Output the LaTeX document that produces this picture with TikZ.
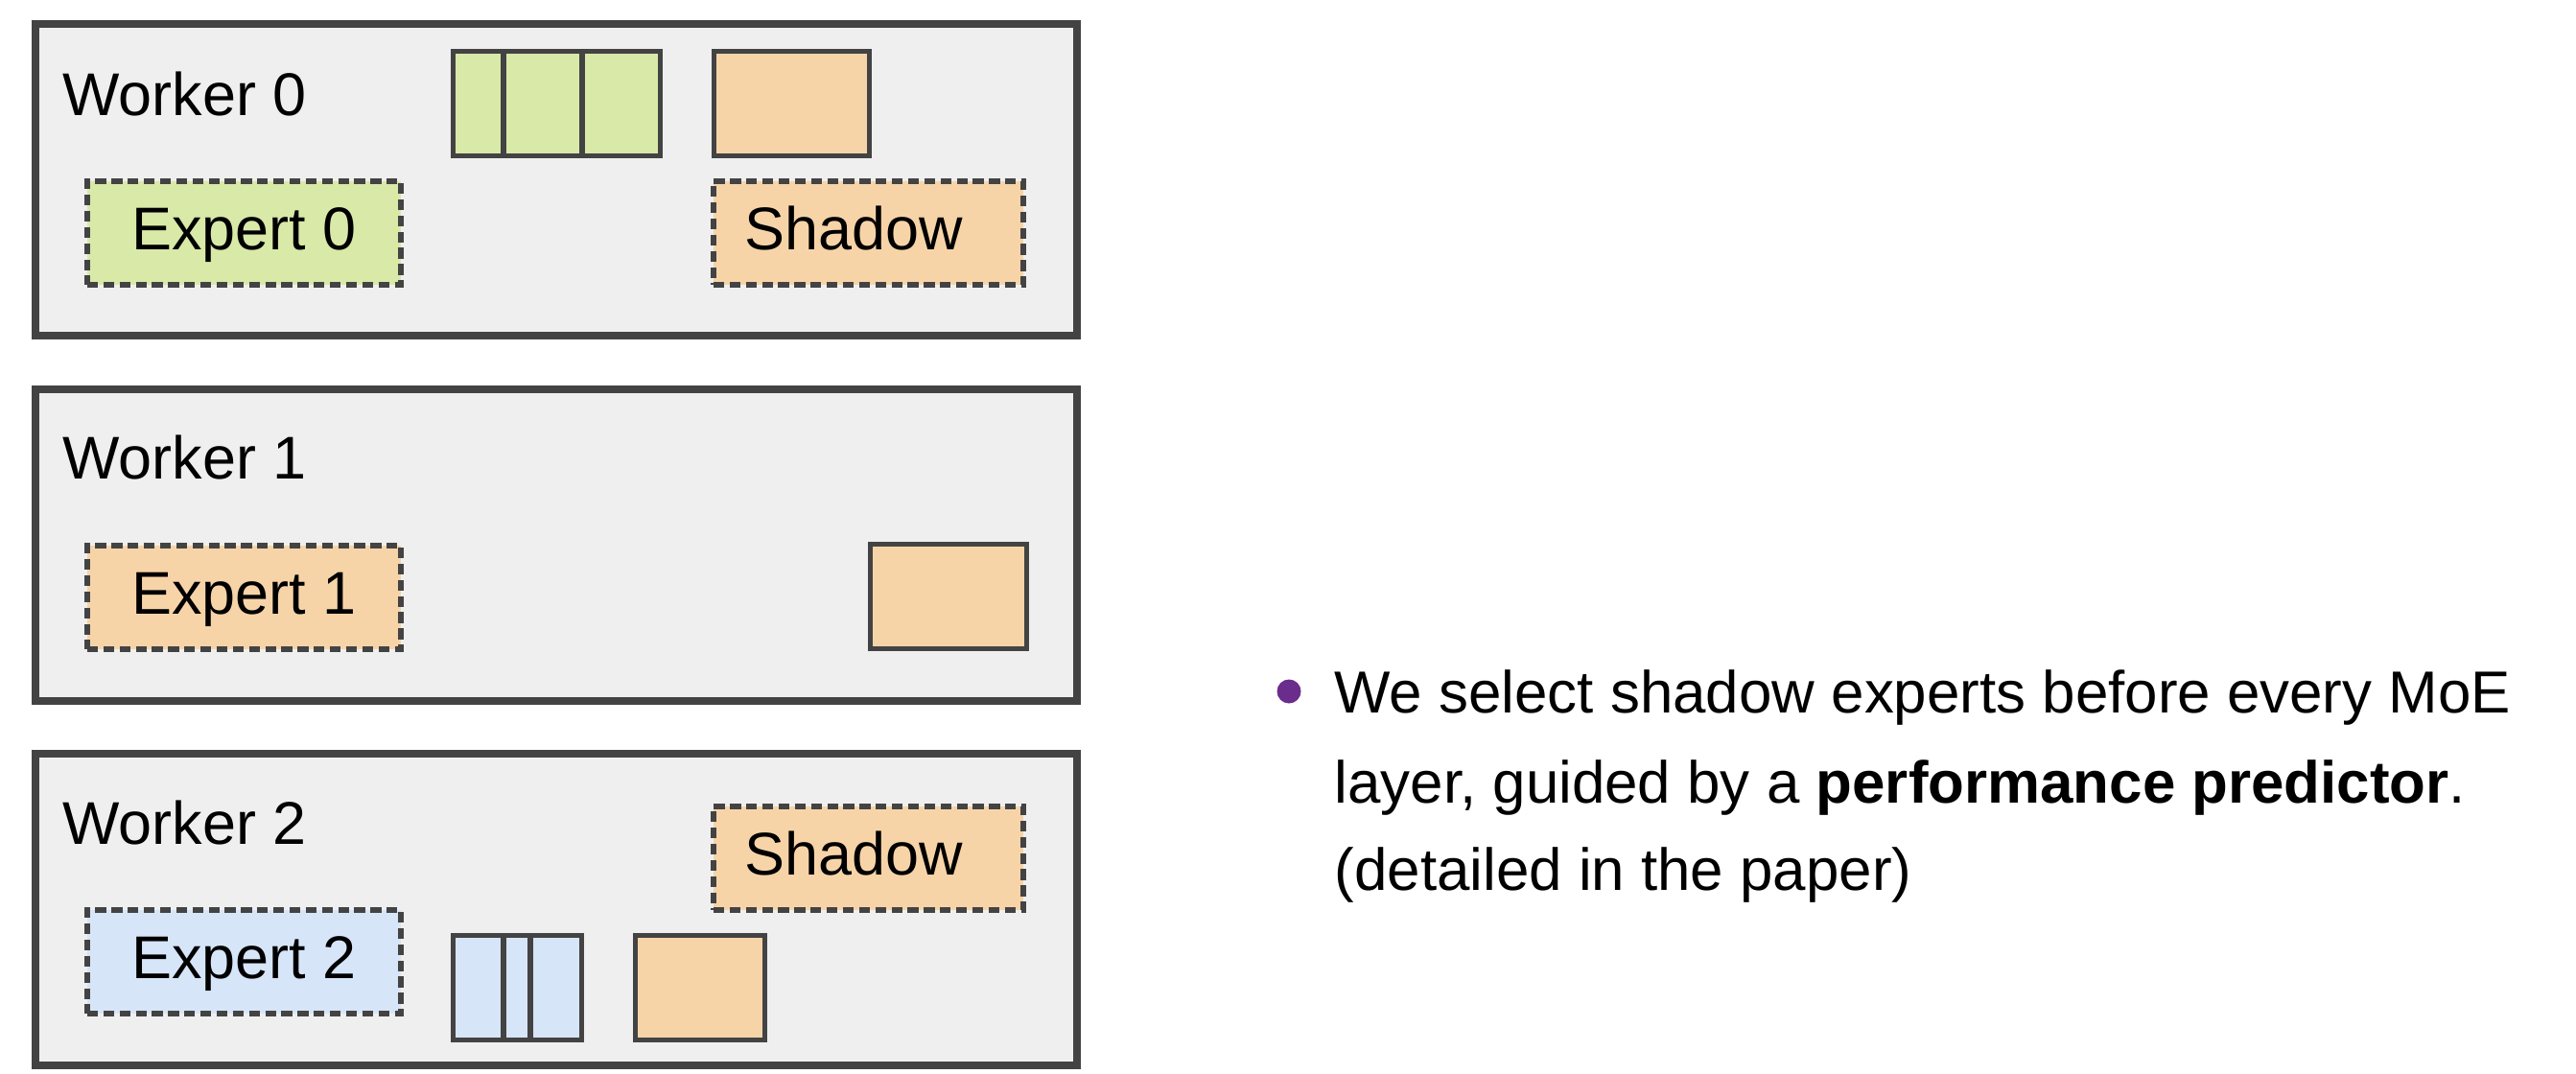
\documentclass[tikz,border=0pt]{standalone}
\usepackage{fontspec}
\setmainfont{Liberation Sans}
\usetikzlibrary{positioning}
\definecolor{workerbg}{HTML}{EFEFEF}
\definecolor{edgegray}{HTML}{434343}
\definecolor{greenbg}{HTML}{D8E9A8}
\definecolor{orangebg}{HTML}{F7D4A8}
\definecolor{bluebg}{HTML}{D6E5F7}
\definecolor{dotpurple}{HTML}{6B2D8B}

\begin{document}
\begin{tikzpicture}[
      font=\fontsize{17.9pt}{21pt}\selectfont,
      worker/.style={draw=edgegray, line width=2pt, fill=workerbg, minimum width=10.86cm, minimum height=3.25cm, inner sep=0pt},
      workername/.style={anchor=base west, inner sep=0pt},
      expert/.style={draw=edgegray, line width=1.6pt, dash pattern=on 3.2pt off 1.6pt, minimum width=3.27cm, minimum height=1.08cm, inner sep=0pt, text height=14pt, text depth=3.8pt},
      cell/.style={draw=edgegray, line width=1.6pt, minimum height=1.09cm, inner sep=0pt, outer sep=0pt},
      bullettext/.style={anchor=base west, inner sep=0pt, font=\fontsize{17.6pt}{21pt}\selectfont}]
    \useasboundingbox (0,0) rectangle (26.86,-11.2);
    % workers
    \node[worker] (w0) at (5.80,-1.875) {};
    \node[worker] (w1) at (5.80,-5.685) {};
    \node[worker] (w2) at (5.80,-9.485) {};
    \node[workername] (n0) at (0.65,-1.20) {Worker 0};
    \node[workername] (n1) at (0.65,-4.99) {Worker 1};
    \node[workername] (n2) at (0.65,-8.80) {Worker 2};
    % worker 0
    \node[expert, fill=greenbg] (e0) at (2.545,-2.43) {Expert 0};
    \node[expert, fill=orangebg, minimum width=3.23cm] (s0) at (9.055,-2.43) {Shadow\kern0.3cm};
    \node[cell, fill=greenbg, minimum width=0.525cm] (g0a) at (4.9875,-1.08) {};
    \node[cell, fill=greenbg, minimum width=0.82cm, right=0pt of g0a] (g0b) {};
    \node[cell, fill=greenbg, minimum width=0.815cm, right=0pt of g0b] (g0c) {};
    \node[cell, fill=orangebg, minimum width=1.62cm] (o0) at (8.255,-1.08) {};
    % worker 1
    \node[expert, fill=orangebg] (e1) at (2.545,-6.23) {Expert 1};
    \node[cell, fill=orangebg, minimum width=1.63cm] (o1) at (9.89,-6.22) {};
    % worker 2
    \node[expert, fill=bluebg] (e2) at (2.545,-10.03) {Expert 2};
    \node[expert, fill=orangebg, minimum width=3.23cm] (s2) at (9.055,-8.95) {Shadow\kern0.3cm};
    \node[cell, fill=bluebg, minimum width=0.525cm] (b2a) at (4.9875,-10.30) {};
    \node[cell, fill=bluebg, minimum width=0.28cm, right=0pt of b2a] (b2b) {};
    \node[cell, fill=bluebg, minimum width=0.535cm, right=0pt of b2b] (b2c) {};
    \node[cell, fill=orangebg, minimum width=1.35cm] (o2) at (7.30,-10.30) {};
    % bullet text
    \node[circle, fill=dotpurple, minimum size=0.25cm, inner sep=0pt] (dot) at (13.44,-7.21) {};
    \node[bullettext] (t1) at (13.91,-7.43) {We select shadow experts before every MoE};
    \node[bullettext] (t2) at (13.91,-8.37) {layer, guided by a \textbf{performance predictor}.};
    \node[bullettext] (t3) at (13.91,-9.28) {(detailed in the paper)};
  \end{tikzpicture}
\end{document}
